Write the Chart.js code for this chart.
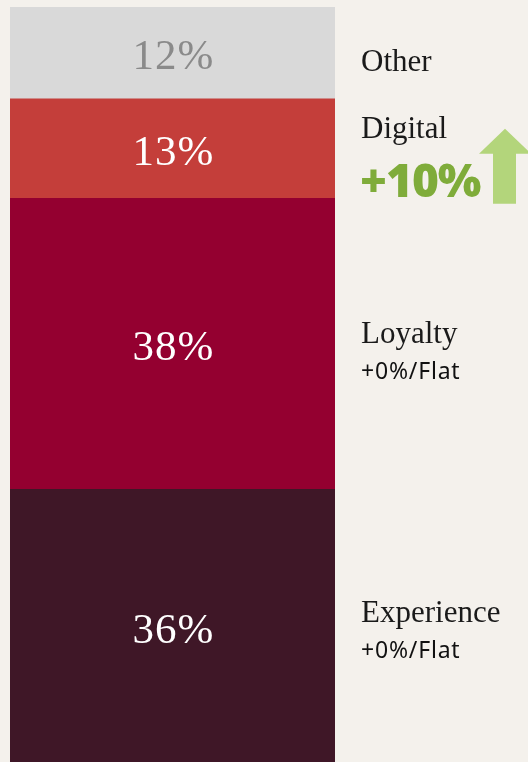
<!DOCTYPE html>
<html>
<head>
<meta charset="utf-8">
<script src="https://cdn.jsdelivr.net/npm/chart.js@4"></script>
<style>
  html, body { margin: 0; padding: 0; background: #f4f1ec; overflow: hidden; }
  #wrap { position: absolute; left: 0; top: 0; width: 528px; height: 765px; }
</style>
</head>
<body>
<div id="wrap"><canvas id="shareChart" width="528" height="765"></canvas></div>
<script>
// segments, bottom to top
var segments = ['Experience', 'Loyalty', 'Digital', 'Other'];
var shares = [36, 38, 13, 12];
var changes = ['+0%/Flat', '+0%/Flat', '+10%', ''];
var segColors = ['#3f1727', '#940030', '#c43e3a', '#d9d9d9'];
var valueColors = ['#ffffff', '#ffffff', '#ffffff', '#8a8a8a'];

// where the side text sits relative to each segment's middle (baseline offset)
var nameOffset = [-5, -1, -11, 18];

var totalShare = shares.reduce(function (a, b) { return a + b; }, 0);

var sideLabels = {
    id: 'sideLabels',
    afterDatasetsDraw: function (chart) {
        var ctx = chart.ctx;
        ctx.save();
        chart.data.datasets.forEach(function (ds, i) {
            var bar = chart.getDatasetMeta(i).data[0];
            var mid = (bar.y + bar.base) / 2;

            // value inside the bar
            ctx.font = '43px "Liberation Serif"';
            ctx.letterSpacing = '1px';
            ctx.fillStyle = valueColors[i];
            ctx.textAlign = 'center';
            ctx.textBaseline = 'middle';
            ctx.fillText(shares[i] + '%', bar.x + 1, mid + 5);

            // segment name on the right
            var nameY = mid + nameOffset[i];
            ctx.letterSpacing = '0px';
            ctx.textAlign = 'left';
            ctx.textBaseline = 'alphabetic';
            ctx.font = '31px "Liberation Serif"';
            ctx.fillStyle = '#1a1a1a';
            ctx.fillText(segments[i], 361, nameY);

            if (changes[i] === '+10%') {
                ctx.font = '800 46px "Open Sans"';
                ctx.letterSpacing = '-1px';
                ctx.fillStyle = '#7fac3a';
                ctx.fillText(changes[i], 360, nameY + 59);
                // up arrow
                ctx.fillStyle = '#b3d57b';
                ctx.beginPath();
                ctx.moveTo(505, nameY - 9);
                ctx.lineTo(531, nameY + 16);
                ctx.lineTo(516, nameY + 16);
                ctx.lineTo(516, nameY + 66);
                ctx.lineTo(493, nameY + 66);
                ctx.lineTo(493, nameY + 16);
                ctx.lineTo(479, nameY + 16);
                ctx.closePath();
                ctx.fill();
            } else if (changes[i]) {
                ctx.font = '23px "Noto Sans"';
                ctx.letterSpacing = '0.8px';
                ctx.fillStyle = '#111111';
                ctx.fillText(changes[i], 361, nameY + 36);
            }
        });
        ctx.restore();
    }
};

var ctx = document.getElementById('shareChart');
var chart = new Chart(ctx, {
    type: 'bar',
    data: {
        labels: [''],
        datasets: segments.map(function (name, i) {
            return {
                label: name,
                data: [shares[i]],
                backgroundColor: segColors[i],
                borderWidth: 0,
                barPercentage: 1,
                categoryPercentage: 1
            };
        })
    },
    options: {
        responsive: false,
        animation: false,
        layout: { padding: { top: 7, left: 10, right: 193, bottom: 0 } },
        scales: {
            x: { stacked: true, display: false },
            y: { stacked: true, display: false, min: 0, max: totalShare }
        },
        plugins: {
            legend: { display: false },
            tooltip: { enabled: false }
        }
    },
    plugins: [sideLabels]
});
</script>
</body>
</html>
